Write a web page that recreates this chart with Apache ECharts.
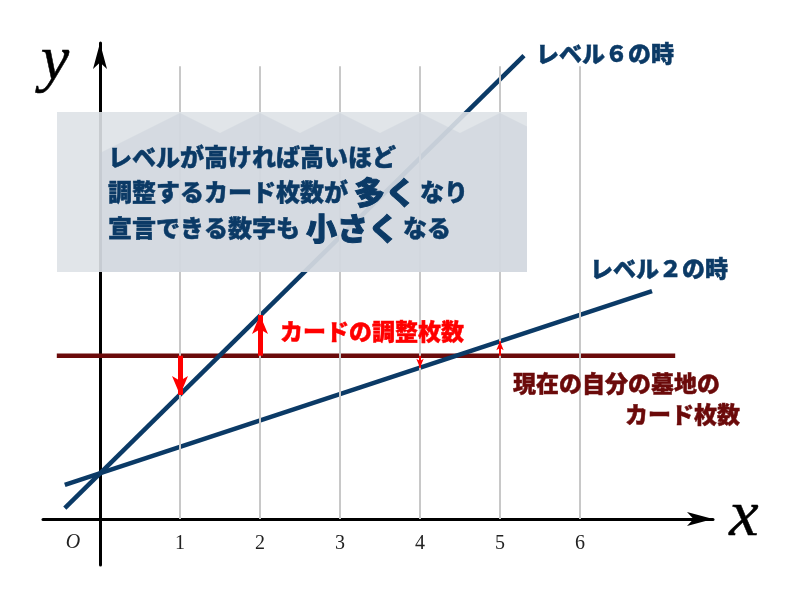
<!DOCTYPE html>
<html>
<head>
<meta charset="utf-8">
<script src="https://cdn.jsdelivr.net/npm/echarts@6/dist/echarts.min.js"></script>
<style>html,body{margin:0;padding:0;background:#fff}#chart{width:800px;height:600px}</style>
</head>
<body>
<div id="chart"></div>
<script>
// ---- data ----
const xTicks = [1, 2, 3, 4, 5, 6];
const gridLineTop = 34.3;            // y value where the vertical guide lines end
const level6X = [-0.44, 5.3];
const level6Y = [0.83, 35.1];
const level2X = [-0.44, 6.9];
const level2Y = [2.58, 17.27];
const graveX = [-0.54, 7.19];
const graveY = [12.37, 12.37];
const bigArrowX = [1, 2];
const bigArrowTo = [9.4, 15.45];
const smallArrowX = [4, 5];
const smallArrowTo = [11.46, 13.46];

const NAVY = '#0b3a66';
const MAROON = '#6b0a0a';
const RED = '#ff0000';
const JP = '"Noto Sans CJK JP", sans-serif';
const SERIF = '"Liberation Serif", "DejaVu Serif", serif';
const W = 900;
const SW = 0.45;

const pairs = (xs, ys) => xs.map((x, i) => [x, ys[i]]);
const jpText = (x, y, text, color, size) => ({
  type: 'text', z: 11, x: x, y: y,
  style: { text: text, fontFamily: JP, fontWeight: W, fontSize: size, fill: color,
    stroke: color, lineWidth: SW, verticalAlign: 'middle', align: 'left' }
});
const richBox = (x, y, text) => ({
  type: 'text', z: 11, x: x, y: y,
  style: { text: text, verticalAlign: 'middle', align: 'left', fill: NAVY,
    rich: { n: { fontFamily: JP, fontWeight: W, fontSize: 24, fill: NAVY, stroke: NAVY, lineWidth: SW },
            b: { fontFamily: JP, fontWeight: W, fontSize: 31, fill: NAVY, stroke: NAVY, lineWidth: 1,
                 padding: [0, 4, 0, 6] } } }
});

const chart = echarts.init(document.getElementById('chart'));
chart.setOption({
  animation: false,
  backgroundColor: '#fff',
  grid: { left: 43, right: 87, top: 43, bottom: 35 },
  xAxis: {
    type: 'value', min: -0.7125, max: 7.6625,
    axisLine: { onZero: true, symbol: ['none', 'arrow'], symbolSize: [10.5, 26],
      lineStyle: { color: '#000', width: 3 } },
    axisTick: { show: false },
    splitLine: { show: false },
    axisLabel: { customValues: xTicks, margin: -31, fontFamily: SERIF,
      fontSize: 20, color: '#222', formatter: v => String(v) }
  },
  yAxis: {
    type: 'value', min: -3.485, max: 36.06,
    axisLine: { onZero: true, symbol: ['none', 'arrow'], symbolSize: [10.5, 26],
      lineStyle: { color: '#000', width: 3 } },
    axisTick: { show: false },
    splitLine: { show: false },
    axisLabel: { show: false }
  },
  series: [
    {
      name: 'grid', type: 'line', data: [], silent: true, z: 1,
      markLine: {
        silent: true, symbol: ['none', 'none'], label: { show: false },
        lineStyle: { color: '#c8c8c8', width: 2, type: 'solid' },
        data: xTicks.map(t => [{ coord: [t, 0] }, { coord: [t, gridLineTop] }])
      }
    },
    {
      name: '現在の自分の墓地のカード枚数', type: 'line', data: pairs(graveX, graveY),
      symbol: 'none', z: 3, lineStyle: { color: MAROON, width: 4.5 }
    },
    {
      name: 'レベル２の時', type: 'line', data: pairs(level2X, level2Y),
      symbol: 'none', z: 4, lineStyle: { color: NAVY, width: 4.5 }
    },
    {
      name: 'レベル６の時', type: 'line', data: pairs(level6X, level6Y),
      symbol: 'none', z: 4, lineStyle: { color: NAVY, width: 4.5 }
    },
    {
      name: 'bigArrows', type: 'line', data: [], z: 6,
      markLine: {
        silent: true, symbol: ['none', 'arrow'], symbolSize: [12, 19], label: { show: false },
        lineStyle: { color: RED, width: 5, type: 'solid' },
        data: bigArrowX.map((x, i) => [{ coord: [x, graveY[0]] }, { coord: [x, bigArrowTo[i]] }])
      }
    },
    {
      name: 'smallArrows', type: 'line', data: [], z: 6,
      markLine: {
        silent: true, symbol: ['none', 'arrow'], symbolSize: [5.5, 9], label: { show: false },
        lineStyle: { color: RED, width: 2, type: 'solid' },
        data: smallArrowX.map((x, i) => [{ coord: [x, graveY[0]] }, { coord: [x, smallArrowTo[i]] }])
      }
    }
  ],
  graphic: [
    { type: 'rect', z: 10, shape: { x: 57, y: 112, width: 470, height: 160 },
      style: { fill: 'rgba(222,226,231,0.9)' } },
    { type: 'polygon', z: 10,
      shape: { points: [[100,153],[180,113],[220,133],[260,113],[300,133],[340,113],[380,133],[420,113],[460,133],[500,113],[527,126.5],[527,272],[100,272]] },
      style: { fill: 'rgba(195,203,212,0.4)' } },
    jpText(108, 157, 'レベルが高ければ高いほど', NAVY, 24),
    richBox(108, 192, '{n|調整するカード枚数が}{b|多く}{n|なり}'),
    richBox(108, 228, '{n|宣言できる数字も}{b|小さく}{n|なる}'),
    jpText(536, 53, 'レベル６の時', NAVY, 23),
    jpText(590, 268, 'レベル２の時', NAVY, 23),
    jpText(280, 331, 'カードの調整枚数', RED, 23),
    jpText(513, 383, '現在の自分の墓地の', MAROON, 23),
    jpText(625, 414, 'カード枚数', MAROON, 23),
    { type: 'text', z: 11, x: 55, y: 62,
      style: { text: 'y', fontFamily: SERIF, fontStyle: 'italic', fontSize: 64,
        fill: '#000', stroke: '#000', lineWidth: 0.5, verticalAlign: 'middle', align: 'center' } },
    { type: 'text', z: 11, x: 744, y: 518,
      style: { text: 'x', fontFamily: SERIF, fontStyle: 'italic', fontSize: 66,
        fill: '#000', stroke: '#000', lineWidth: 0.5, verticalAlign: 'middle', align: 'center' } },
    { type: 'text', z: 11, x: 73, y: 543,
      style: { text: 'O', fontFamily: SERIF, fontStyle: 'italic', fontSize: 20,
        fill: '#222', verticalAlign: 'middle', align: 'center' } }
  ]
});
</script>
</body>
</html>
